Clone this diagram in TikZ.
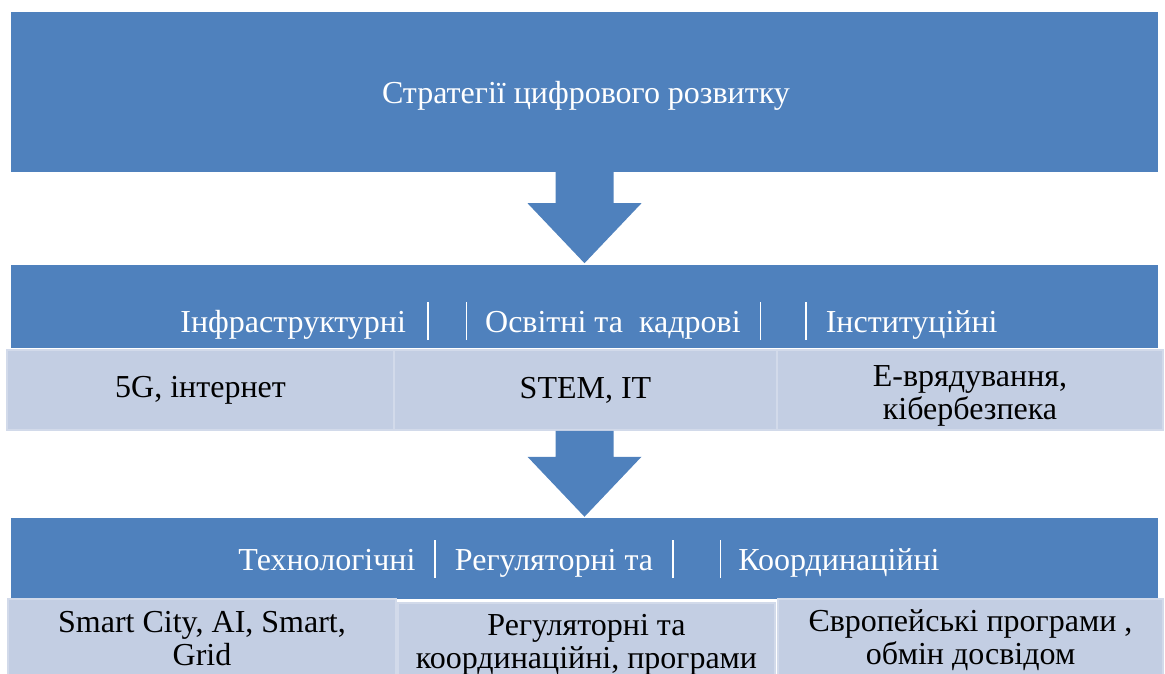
\documentclass[tikz,border=0pt]{standalone}
\usepackage{fontspec}
\setmainfont{Liberation Serif}
\usepackage{xcolor}
\usetikzlibrary{calc}
\definecolor{bandblue}{RGB}{79,129,189}
\definecolor{cellfill}{RGB}{195,206,227}
\definecolor{celledge}{RGB}{210,218,234}
\newcommand{\bandbar}{\rule[-8pt]{1.6pt}{38pt}}

\begin{document}
\begin{tikzpicture}[x=1pt,y=-1pt,
		band/.style={rectangle,fill=bandblue,inner sep=0pt,minimum width=1147pt},
		bandtext/.style={text=white,inner sep=0pt,font=\fontsize{32}{33}\selectfont},
		cell/.style={rectangle,fill=cellfill,draw=celledge,line width=1.5pt,inner sep=0pt,
			align=center,font=\fontsize{32}{33}\selectfont}]
		\useasboundingbox (0,0) rectangle (1165,673);
		\clip (0,0) rectangle (1165,673);
		
		\node [band,minimum height=160pt] (top) at (584.5,92) {};
		\node [bandtext,anchor=base] (toptext) at (586,103) {Стратегії цифрового розвитку};
		
		\node [band,minimum height=83pt] (mid) at (584.5,306.5) {};
		\node [bandtext,anchor=base] (midtext) at (589,332) {Інфраструктурні\hspace{21pt}\bandbar\hspace{37pt}\bandbar\hspace{18pt}Освітні та\ \ кадрові\hspace{19pt}\bandbar\hspace{44pt}\bandbar\hspace{19pt}Інституційні};
		\node [cell,minimum width=387pt,minimum height=80pt] (c21) at (200.5,390) {5G, інтернет};
		\node [cell,minimum width=383pt,minimum height=80pt] (c22) at (585.5,390) {STEM, IT};
		\node [cell,minimum width=386pt,minimum height=80pt] (c23) at (970,390) {\rule{0pt}{32pt}Е-врядування,\\кібербезпека};
		
		\node [band,minimum height=81pt] (low) at (584.5,558.5) {};
		\node [bandtext,anchor=base] (lowtext) at (589,570) {Технологічні\hspace{19pt}\bandbar\hspace{19pt}Регуляторні та\hspace{19pt}\bandbar\hspace{46pt}\bandbar\hspace{17pt}Координаційні};
		\node [cell,minimum width=388pt,minimum height=79pt] (c31) at (202,638.5) {Smart City, AI, Smart,\\Grid};
		\node [cell,minimum width=377pt,minimum height=84pt] (c32) at (586.5,645) {Регуляторні та\\координаційні, програми};
		\node [cell,minimum width=385pt,minimum height=82pt] (c33) at (970.5,640) {Європейські програми ,\\обмін досвідом};
		
		\fill [bandblue] ($(top.south)+(-29,0)$) -- ++(58,0) -- ++(0,31) -- ++(28,0) -- ++(-57,60) -- ++(-57,-60) -- ++(28,0) -- cycle;
		\fill [bandblue] ($(top.south |- c22.south)+(-29,0)$) -- ++(58,0) -- ++(0,26) -- ++(28,0) -- ++(-57,60) -- ++(-57,-60) -- ++(28,0) -- cycle;
\end{tikzpicture}
\end{document}
